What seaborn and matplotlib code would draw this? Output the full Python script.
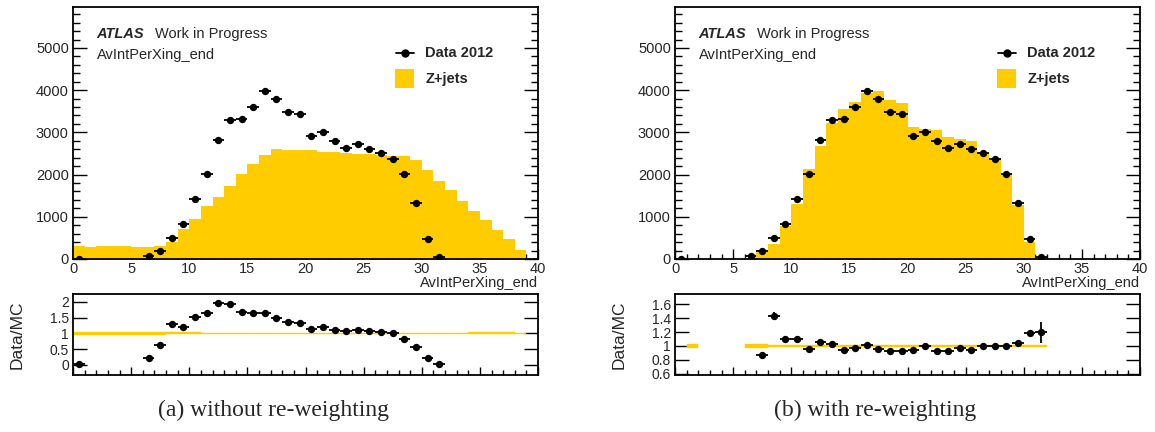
import numpy as np
import matplotlib
matplotlib.use("Agg")
import matplotlib.pyplot as plt
import seaborn as sns
from matplotlib.ticker import MultipleLocator, FixedLocator

nan = np.nan
# ---------------- data ----------------
bin_edges = list(range(0, 41))
bin_centers = [b + 0.5 for b in range(40)]

data_2012 = [8, nan, nan, nan, nan, nan, 63, 182, 498, 837,
             1422, 2022, 2820, 3302, 3310, 3610, 3981, 3784, 3483, 3428,
             2907, 3017, 2796, 2630, 2733, 2615, 2520, 2378, 2006, 1319,
             466, 55, nan, nan, nan, nan, nan, nan, nan, nan]

mc_noweight = [300, 284, 300, 300, 300, 292, 292, 300, 395, 703,
               948, 1264, 1477, 1738, 2006, 2243, 2472, 2599, 2583, 2591,
               2575, 2536, 2536, 2512, 2480, 2488, 2464, 2441, 2449, 2346,
               2117, 1856, 1635, 1382, 1145, 932, 695, 466, 221, 0]

mc_weight = [0, 5, 0, 0, 0, 0, 20, 220, 350, 773,
             1310, 2140, 2685, 3214, 3554, 3720, 3933, 3972, 3768, 3697,
             3119, 3081, 3048, 2882, 2851, 2796, 2520, 2378, 2000, 1268,
             392, 46, 0, 0, 0, 0, 0, 0, 0, 0]

ratio_noweight = [0.02, nan, nan, nan, nan, nan, 0.21, 0.62, 1.30, 1.21,
                  1.53, 1.64, 1.95, 1.94, 1.67, 1.64, 1.64, 1.48, 1.37, 1.34,
                  1.14, 1.20, 1.12, 1.07, 1.12, 1.07, 1.05, 1.00, 0.83, 0.56,
                  0.22, 0.02, nan, nan, nan, nan, nan, nan, nan, nan]

ratio_weight = [nan, nan, nan, nan, nan, nan, nan, 0.865, 1.435, 1.106,
                1.096, 0.952, 1.058, 1.034, 0.937, 0.976, 1.019, 0.961, 0.932, 0.932,
                0.942, 0.995, 0.928, 0.923, 0.971, 0.942, 1.00, 1.00, 1.005, 1.043,
                1.188, 1.198, nan, nan, nan, nan, nan, nan, nan, nan]

ratio_weight_err = [0, 0, 0, 0, 0, 0, 0, 0.05, 0.06, 0.02,
                    0.02, 0.01, 0.01, 0.01, 0.01, 0.01, 0.01, 0.01, 0.01, 0.01,
                    0.01, 0.01, 0.01, 0.01, 0.01, 0.01, 0.01, 0.01, 0.01, 0.015,
                    0.03, 0.15, 0, 0, 0, 0, 0, 0, 0, 0]

band_noweight = [0.045, 0.045, 0.045, 0.045, 0.045, 0.045, 0.045, 0.045, 0.032, 0.032,
                 0.032, 0.02, 0.02, 0.02, 0.02, 0.02, 0.02, 0.02, 0.02, 0.02,
                 0.02, 0.02, 0.02, 0.02, 0.02, 0.02, 0.02, 0.02, 0.02, 0.02,
                 0.02, 0.02, 0.02, 0.02, 0.03, 0.03, 0.03, 0.03, 0.025, nan]

band_weight = [nan, 0.03, nan, nan, nan, nan, 0.03, 0.03, 0.02, 0.011,
               0.011, 0.011, 0.011, 0.011, 0.011, 0.011, 0.011, 0.011, 0.011, 0.011,
               0.011, 0.011, 0.011, 0.011, 0.011, 0.011, 0.011, 0.011, 0.011, 0.011,
               0.011, 0.011, nan, nan, nan, nan, nan, nan, nan, nan]

main_yticks = [0, 1000, 2000, 3000, 4000, 5000]
xticks = [0, 5, 10, 15, 20, 25, 30, 35, 40]
ratio_yticks_a = [0, 0.5, 1, 1.5, 2]
ratio_yticks_b = [0.6, 0.8, 1.0, 1.2, 1.4, 1.6]

captions = ["(a) without re-weighting", "(b) with re-weighting"]

# ---------------- style ----------------
sns.set_theme(style="ticks")
plt.rcParams["font.family"] = ["Liberation Sans", "DejaVu Sans"]
YELLOW = "#FFCC00"

W, H = 1155, 432
fig = plt.figure(figsize=(W / 100, H / 100), dpi=100)
fig.patch.set_facecolor("white")

def px_axes(x0, x1, ytop, ybot):
    return fig.add_axes([x0 / W, 1 - ybot / H, (x1 - x0) / W, (ybot - ytop) / H])

ax_a = px_axes(73, 538, 7, 259)
ax_b = px_axes(675, 1140, 7, 259)
rx_a = px_axes(73, 538, 294, 375)
rx_b = px_axes(675, 1140, 294, 375)

def style_axes(ax):
    ax.set_facecolor("white")
    for s in ax.spines.values():
        s.set_visible(True)
        s.set_color("black")
        s.set_linewidth(1.3)
    ax.tick_params(which="both", direction="in", left=True, right=True,
                   bottom=True, top=False, color="black", width=1.0)

def draw_main(ax, mc):
    style_axes(ax)
    sns.histplot(x=bin_centers, weights=mc, bins=bin_edges, element="step",
                 fill=True, color=YELLOW, alpha=1.0, linewidth=0, ax=ax)
    d = np.array(data_2012, dtype=float)
    m = ~np.isnan(d)
    xc = np.array(bin_centers)[m]
    ax.errorbar(xc, d[m], xerr=0.5, fmt="none", ecolor="black",
                elinewidth=1.3, capsize=0, zorder=3)
    sns.scatterplot(x=xc, y=d[m], color="black", s=28, edgecolor="black",
                    linewidth=0, ax=ax, zorder=4)
    ax.set_xlim(0, 40)
    ax.set_ylim(0, 5970)
    ax.yaxis.set_major_locator(FixedLocator(main_yticks))
    ax.yaxis.set_minor_locator(MultipleLocator(200))
    ax.xaxis.set_major_locator(FixedLocator(xticks))
    ax.xaxis.set_minor_locator(MultipleLocator(1))
    ax.tick_params(axis="y", which="major", length=10, labelsize=10.5, pad=3)
    ax.tick_params(axis="y", which="minor", length=5)
    ax.tick_params(axis="x", which="major", length=7, labelsize=10.5, pad=2)
    ax.tick_params(axis="x", which="minor", length=3.5)
    ax.set_xlabel("")
    ax.set_ylabel("")
    ax.text(1.0, -0.095, "AvIntPerXing_end", transform=ax.transAxes,
            ha="right", va="center", fontsize=10.5)
    # ATLAS label
    ax.text(0.051, 0.893, "ATLAS", transform=ax.transAxes, ha="left", va="center",
            fontsize=10.5, fontweight="bold", fontstyle="italic")
    ax.text(0.177, 0.893, "Work in Progress", transform=ax.transAxes, ha="left",
            va="center", fontsize=10.5)
    ax.text(0.051, 0.811, "AvIntPerXing_end", transform=ax.transAxes, ha="left",
            va="center", fontsize=10.5)
    # legend
    ax.plot([0.694, 0.733], [0.819, 0.819], color="black", lw=1.3,
            transform=ax.transAxes)
    ax.plot([0.7135], [0.819], marker="o", color="black", ms=5,
            transform=ax.transAxes)
    ax.text(0.758, 0.819, "Data 2012", transform=ax.transAxes, ha="left",
            va="center", fontsize=10.5, fontweight="bold")
    ax.add_patch(plt.Rectangle((0.692, 0.680), 0.041, 0.074, color=YELLOW,
                               transform=ax.transAxes, lw=0))
    ax.text(0.758, 0.716, "Z+jets", transform=ax.transAxes, ha="left",
            va="center", fontsize=10.5, fontweight="bold")

def draw_ratio(ax, ratio, err, band, ylim, yticks):
    style_axes(ax)
    b = np.array(band, dtype=float)
    mb = ~np.isnan(b)
    ax.bar(np.array(bin_centers)[mb], 2 * b[mb], bottom=1 - b[mb], width=1.0,
           color=YELLOW, edgecolor=YELLOW, linewidth=0.3, zorder=1)
    r = np.array(ratio, dtype=float)
    e = np.array(err, dtype=float)
    m = ~np.isnan(r)
    xc = np.array(bin_centers)[m]
    ax.errorbar(xc, r[m], xerr=0.5, yerr=e[m], fmt="none", ecolor="black",
                elinewidth=1.3, capsize=0, zorder=3)
    sns.scatterplot(x=xc, y=r[m], color="black", s=28, linewidth=0, ax=ax,
                    zorder=4)
    ax.set_xlim(0, 40)
    ax.set_ylim(*ylim)
    ax.yaxis.set_major_locator(FixedLocator(yticks))
    ax.yaxis.set_minor_locator(FixedLocator([]))
    ax.xaxis.set_major_locator(FixedLocator(xticks))
    ax.xaxis.set_minor_locator(MultipleLocator(1))
    ax.yaxis.set_major_formatter(matplotlib.ticker.FuncFormatter(
        lambda v, p: ("%g" % v)))
    ax.tick_params(axis="y", which="major", length=10, labelsize=10, pad=3)
    ax.tick_params(axis="x", which="major", length=6, labelbottom=False)
    ax.tick_params(axis="x", which="minor", length=3.5)
    ax.set_xlabel("")
    ax.set_ylabel("Data/MC", fontsize=12.5)
    ax.yaxis.set_label_coords(-0.103, 0.5)

draw_main(ax_a, mc_noweight)
draw_main(ax_b, mc_weight)
draw_ratio(rx_a, ratio_noweight, [0] * 40, band_noweight, (-0.32, 2.25), ratio_yticks_a)
draw_ratio(rx_b, ratio_weight, ratio_weight_err, band_weight, (0.58, 1.75), ratio_yticks_b)

fig.text(274 / W, 1 - 410 / H, captions[0], ha="center", va="center",
         fontsize=17, family=["Liberation Serif", "DejaVu Serif"])
fig.text(875 / W, 1 - 410 / H, captions[1], ha="center", va="center",
         fontsize=17, family=["Liberation Serif", "DejaVu Serif"])

fig.savefig("out.png", dpi=100, facecolor="white")
